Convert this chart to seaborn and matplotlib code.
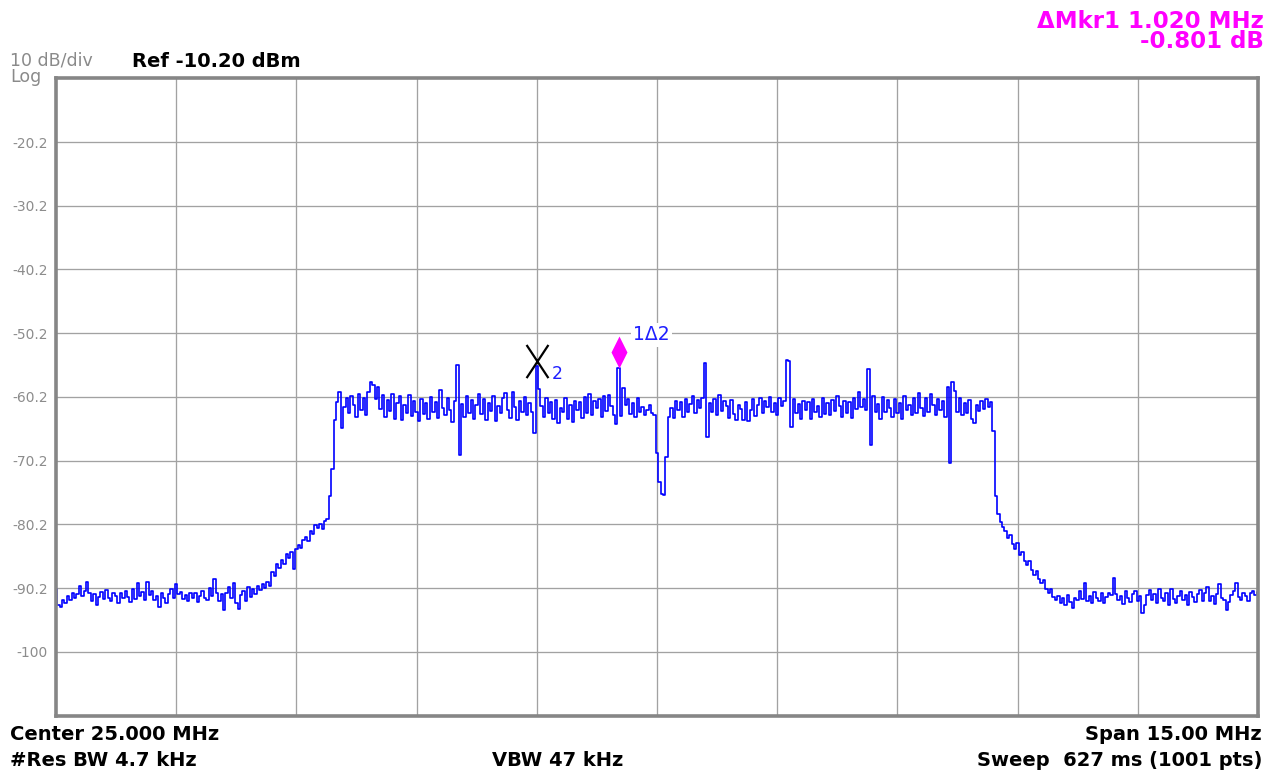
import numpy as np
import pandas as pd
import matplotlib
matplotlib.use("Agg")
import matplotlib.pyplot as plt
from matplotlib.path import Path
import seaborn as sns

# ---------------- data ----------------
START_MHZ = 17.5
STOP_MHZ = 32.5

floor_left = [
    -90.4, -92.8, -93.2, -92.1, -92.6, -91.4, -92.0, -90.9, -91.8, -91.2,
    -89.8, -91.5, -90.6, -89.3, -91.0, -92.3, -91.1, -92.9, -91.6, -90.8,
    -91.9, -90.5, -91.7, -92.2, -90.9, -91.4, -92.6, -91.0, -91.8, -90.7,
    -91.6, -92.4, -90.3, -91.9, -89.4, -91.5, -90.8, -92.1, -89.3, -91.3,
    -90.6, -92.0, -91.4, -93.2, -90.9, -91.7, -92.5, -91.2, -90.4, -91.8,
    -89.5, -91.1, -90.8, -91.9, -91.3, -92.2, -91.0, -91.7, -90.9, -92.4,
    -91.5, -90.7, -91.8, -92.1, -90.2, -91.4, -88.7, -90.9, -92.3, -91.2,
    -93.6, -91.0, -90.1, -91.8, -89.4, -92.6, -93.5, -91.3, -90.7, -92.2,
    -90.0, -91.6, -90.4, -91.2, -89.9,
]

rise = [
    -90.5, -89.6, -90.2, -89.3, -89.8, -87.7, -88.3, -86.4, -87.1, -85.8,
    -86.4, -84.9, -85.5, -84.6, -87.2, -84.1, -83.4, -83.9, -82.6, -82.2,
    -82.8, -81.3, -81.7, -80.3, -80.8, -80.1, -80.9, -79.6, -79.3, -75.8,
    -71.5, -63.9,
]

top = [
    -61.0, -59.4, -65.1, -61.8, -60.3, -62.7, -60.1, -61.5, -63.4, -59.8,
    -62.2, -60.4, -63.0, -59.5, -57.9, -58.3, -60.6, -58.6, -62.1, -59.9,
    -63.3, -60.7, -62.4, -59.7, -63.6, -61.2, -60.0, -63.9, -61.4, -62.8,
    -59.9, -63.2, -60.8, -62.5, -64.0, -60.6, -62.9, -61.1, -63.7, -60.2,
    -62.6, -61.0, -63.5, -59.1, -61.9, -63.1, -60.4, -62.3, -64.1, -60.9,
    -55.2, -69.3, -61.3, -63.4, -60.1, -62.8, -60.7, -63.6, -61.5, -59.8,
    -62.9, -60.5, -63.8, -61.2, -62.4, -60.0, -64.0, -61.6, -62.7, -60.3,
    -59.6, -62.2, -63.5, -59.4, -61.8, -63.9, -60.9, -62.5, -60.2, -63.0,
    -61.1, -62.6, -65.8, -55.3, -59.0, -61.6, -63.3, -60.4, -62.8, -61.0,
    -63.6, -60.7, -64.3, -61.9, -62.5, -60.3, -63.7, -61.4, -64.2, -60.8,
    -62.3, -61.0, -63.5, -60.2, -62.7, -59.7, -63.1, -60.9, -62.0, -60.5,
    -63.4, -60.1, -62.4, -59.9, -61.7, -63.0, -64.5, -55.6, -63.2, -58.8,
    -61.5, -60.6, -62.9, -61.2, -63.3, -60.4, -62.6, -61.8, -63.0, -62.2,
    -61.4, -62.7, -63.0, -69.0, -73.6, -75.4, -75.6, -69.6, -63.4, -61.9,
    -63.5, -60.9, -62.2, -61.0, -63.4, -60.6, -62.5, -61.3, -60.1, -62.8,
    -60.7, -61.9, -60.3, -54.9, -66.5, -61.2, -62.6, -60.5, -63.0, -59.9,
    -62.4, -60.8, -61.6, -63.5, -60.7, -62.9, -63.8, -61.4, -62.1, -63.9,
    -61.0, -64.0, -62.3, -60.6, -63.2, -61.5, -60.3, -62.7, -60.9, -61.8,
    -60.2, -62.6, -61.1, -63.0, -60.4, -61.7, -60.8, -54.4, -54.6, -65.0,
    -60.5, -62.8, -61.3, -63.6, -60.9, -62.2, -61.0, -63.7, -60.6, -62.5,
    -61.7, -63.4, -60.3, -62.9, -61.2, -63.1, -60.7, -62.4, -60.0, -61.6,
    -63.3, -60.8, -62.7, -61.0, -63.5, -60.4, -62.1, -59.4, -61.8, -60.6,
    -62.3, -55.8, -67.8, -60.1, -62.6, -61.3, -63.7, -60.2, -62.5, -60.7,
    -61.9, -63.4, -60.5, -62.8, -61.2, -63.6, -60.0, -62.3, -61.5, -63.1,
    -60.4, -62.7, -59.6, -61.9, -63.2, -60.3, -62.6, -59.8, -61.4, -63.0,
    -60.6, -62.2, -60.9, -63.3, -58.6, -70.6, -57.9, -59.2, -62.5, -60.4,
    -63.1, -61.2, -62.8, -60.7, -63.6, -64.3, -61.5, -62.4, -60.8, -62.1,
    -60.6, -61.8, -61.0,
]

fall = [
    -65.5, -75.8, -78.6, -79.8, -80.6, -81.2, -82.4, -81.9, -83.3, -84.1,
    -83.2, -85.0, -84.5, -85.9, -86.6, -86.0, -87.3, -88.1, -87.5, -88.8,
    -89.4, -88.9, -90.4, -91.0, -90.3, -91.6, -92.0,
]

floor_right = [
    -91.4, -92.6, -91.8, -92.9, -91.3, -92.4, -93.3, -91.7, -92.1, -90.6,
    -91.9, -89.4, -92.2, -91.5, -92.6, -90.8, -91.7, -92.3, -91.0, -92.5,
    -91.6, -90.9, -91.3, -88.6, -91.2, -92.0, -91.4, -92.7, -90.7, -91.8,
    -92.4, -91.1, -90.6, -92.2, -91.5, -94.1, -92.8, -91.3, -90.5, -92.0,
    -91.2, -92.6, -90.4, -91.7, -92.3, -91.0, -92.8, -90.3, -91.9, -92.5,
    -91.4, -90.6, -92.1, -91.3, -92.9, -90.8, -91.6, -92.4, -91.1, -90.5,
    -92.2, -91.0, -90.1, -92.3, -91.5, -92.7, -91.2, -89.5, -91.8, -92.1,
    -93.6, -92.4, -91.3, -90.7, -89.4, -91.6, -92.0, -90.9, -91.4, -92.2,
    -91.0, -90.6, -91.3, -90.8,
]

y_tick_values = [-20.2, -30.2, -40.2, -50.2, -60.2, -70.2, -80.2, -90.2, -100.2]
y_tick_labels = ["-20.2", "-30.2", "-40.2", "-50.2", "-60.2", "-70.2", "-80.2", "-90.2", "-100"]
x_grid_mhz = [19.0, 20.5, 22.0, 23.5, 25.0, 26.5, 28.0, 29.5, 31.0]
REF_LEVEL = -10.20
BOTTOM_LEVEL = -110.20

MKR2_MHZ = 23.50   # normal marker "X 2"
MKR1_MHZ = 24.52   # delta marker "1Δ2"

# ---------------- build ----------------
level = np.array(floor_left + rise + top + fall + floor_right)
freq = np.linspace(START_MHZ, STOP_MHZ, len(level))
df = pd.DataFrame({"freq": freq, "level": level})

W, H = 1266, 773
fig = plt.figure(figsize=(W / 100, H / 100), dpi=100)
sns.set_style("white")
plt.rcParams["font.family"] = ["DejaVu Sans"]

ax = fig.add_axes([56 / W, 1 - 715.5 / H, 1202 / W, (715.5 - 78.3) / H])

sns.lineplot(data=df, x="freq", y="level", ax=ax, color="#0000ff",
             linewidth=1.2, drawstyle="steps-mid", estimator=None, sort=False)

ax.set_xlim(START_MHZ, STOP_MHZ)
ax.set_ylim(BOTTOM_LEVEL, REF_LEVEL)
ax.set_xticks(x_grid_mhz)
ax.set_xticklabels([])
ax.set_yticks(y_tick_values)
ax.set_yticklabels(y_tick_labels)
ax.set_xlabel("")
ax.set_ylabel("")
ax.grid(True, color="#a2a2a2", linewidth=0.95)
ax.set_axisbelow(True)
ax.tick_params(axis="both", length=0)
ax.tick_params(axis="y", pad=6, labelsize=10, labelcolor="#8c8c8c")
for sp in ax.spines.values():
    sp.set_visible(True)
    sp.set_color("#868686")
    sp.set_linewidth(2.6)

# markers
i2 = int(np.argmin(np.abs(freq - MKR2_MHZ)))
i1 = int(np.argmin(np.abs(freq - MKR1_MHZ)))

x_marker = Path([(-0.33, -0.35), (0.33, 0.65), (-0.33, 0.65), (0.33, -0.35)],
                [Path.MOVETO, Path.LINETO, Path.MOVETO, Path.LINETO])
ax.plot([freq[i2]], [level[i2]], linestyle="none", marker=x_marker, ms=31,
        mew=1.6, mec="black", mfc="none", zorder=5)
ax.annotate("2", (freq[i2], level[i2]), xytext=(14.5, -6), textcoords="offset points",
            ha="center", va="center", fontsize=12.5, color="#1f1fff", zorder=6)

diamond = Path([(0, 0), (0.25, 0.5), (0, 1), (-0.25, 0.5), (0, 0)],
               [Path.MOVETO, Path.LINETO, Path.LINETO, Path.LINETO, Path.CLOSEPOLY])
ax.plot([freq[i1]], [level[i1]], linestyle="none", marker=diamond, ms=46,
        mew=0, mfc="#ff00ff", zorder=5)
ax.annotate("1Δ2", (freq[i1], level[i1]), xytext=(23.5, 23.5), textcoords="offset points",
            ha="center", va="center", fontsize=13.5, color="#1f1fff", zorder=6,
            bbox=dict(boxstyle="square,pad=0.12", fc="white", ec="none"))

# header / footer annotations
def fx(px):
    return px / W

def fy(py):
    return 1 - py / H

gray = "#8a8a8a"
# multi-line text: va="baseline" aligns the last line's baseline
fig.text(fx(10), fy(82), "10 dB/div\nLog", fontsize=12.5, color=gray, va="baseline",
         ha="left", linespacing=0.88, multialignment="left")
fig.text(fx(132), fy(67), "Ref -10.20 dBm", fontsize=14, fontweight="bold",
         color="black", va="baseline", ha="left")
fig.text(fx(1264), fy(48.5), "ΔMkr1 1.020 MHz\n-0.801 dB", fontsize=16.5,
         fontweight="bold", color="#ff00ff", va="baseline", ha="right",
         multialignment="right", linespacing=0.88)

fig.text(fx(10), fy(740), "Center 25.000 MHz", fontsize=14, fontweight="bold",
         color="black", va="baseline", ha="left")
fig.text(fx(10), fy(766.5), "#Res BW 4.7 kHz", fontsize=14, fontweight="bold",
         color="black", va="baseline", ha="left")
fig.text(fx(557.5), fy(766.5), "VBW 47 kHz", fontsize=14, fontweight="bold",
         color="black", va="baseline", ha="center")
fig.text(fx(1262), fy(740), "Span 15.00 MHz", fontsize=14, fontweight="bold",
         color="black", va="baseline", ha="right")
fig.text(fx(1262), fy(766.5), "Sweep  627 ms (1001 pts)", fontsize=14, fontweight="bold",
         color="black", va="baseline", ha="right")

fig.savefig("out.png", dpi=100, facecolor="white")
print(len(level))
